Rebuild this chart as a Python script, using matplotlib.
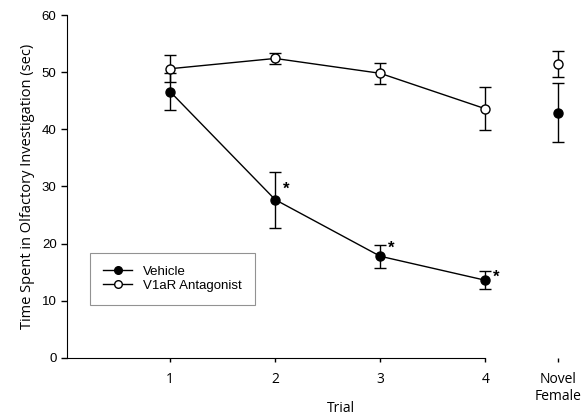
import matplotlib
matplotlib.use("Agg")
import matplotlib.pyplot as plt
from matplotlib.lines import Line2D

trials = [1, 2, 3, 4]
novel_x = 4.69
tick_labels = ["1", "2", "3", "4", "Novel\nFemale"]

vehicle = [46.6, 27.7, 17.8, 13.6]
vehicle_err = [3.3, 4.9, 2.0, 1.6]
vehicle_novel = 42.9
vehicle_novel_err = 5.2

antag = [50.6, 52.4, 49.8, 43.6]
antag_err = [2.4, 1.0, 1.8, 3.8]
antag_novel = 51.4
antag_novel_err = 2.3

star_trials = [2, 3, 4]
star_y = [29.6, 19.2, 14.2]

plt.rcParams["font.family"] = ["Liberation Sans", "DejaVu Sans"]
label_font = ["Open Sans", "DejaVu Sans"]

fig = plt.figure(figsize=(5.81, 4.19), dpi=100)
ax = fig.add_axes([0.1153, 0.1456, 0.875, 0.8186])

kw = dict(color="black", lw=1.0, capsize=4, capthick=1.0, elinewidth=1.0, markersize=6.5)
ax.errorbar(trials, vehicle, yerr=vehicle_err, marker="o", mfc="black", mec="black", **kw)
ax.errorbar(trials, antag, yerr=antag_err, marker="o", mfc="white", mec="black", **kw)
ax.errorbar([novel_x], [vehicle_novel], yerr=[vehicle_novel_err], marker="o",
            mfc="black", mec="black", ls="none", **kw)
ax.errorbar([novel_x], [antag_novel], yerr=[antag_novel_err], marker="o",
            mfc="white", mec="black", ls="none", **kw)

for t, y in zip(star_trials, star_y):
    ax.text(t + 0.07, y, "*", fontsize=12, ha="left", va="center", fontweight="bold")

ax.set_xlim(0.019, 4.857)
ax.set_ylim(0, 60)
ax.set_yticks(range(0, 61, 10))
ax.set_xticks(trials + [novel_x])
ax.set_xticklabels(tick_labels)
for lbl in ax.get_xticklabels():
    lbl.set_family(label_font)
ax.tick_params(axis="y", length=4, width=1.0, labelsize=9.5)
ax.tick_params(axis="x", length=3, width=1.0, pad=7, labelsize=10)

ax.spines["top"].set_visible(False)
ax.spines["right"].set_visible(False)
ax.spines["bottom"].set_bounds(0.019, 4)

ax.set_ylabel("Time Spent in Olfactory Investigation (sec)", fontsize=10.5,
              family=label_font, labelpad=5)
ax.set_xlabel("Trial", fontsize=10, family=label_font)
ax.xaxis.set_label_coords(0.538, -0.125)

handles = [
    Line2D([], [], color="black", lw=1.0, marker="o", mfc="black", mec="black", markersize=5.5),
    Line2D([], [], color="black", lw=1.0, marker="o", mfc="white", mec="black", markersize=5.5),
]
leg = ax.legend(handles, ["Vehicle", "V1aR Antagonist"], loc="lower left",
                bbox_to_anchor=(0.045, 0.155), fontsize=9.5, frameon=True,
                fancybox=False, edgecolor="#777777", borderpad=1.0,
                handlelength=2.2, labelspacing=0.1, borderaxespad=0)
leg.get_frame().set_linewidth(0.8)

fig.savefig("out.png", dpi=100)
